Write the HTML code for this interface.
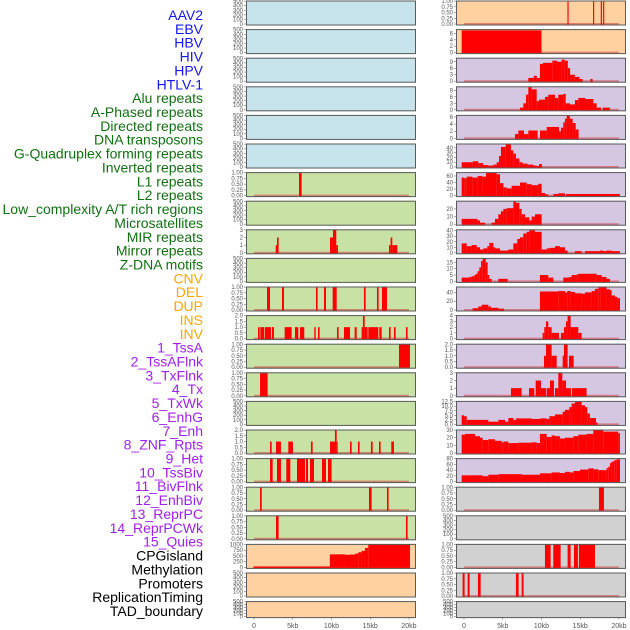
<!DOCTYPE html>
<html><head><meta charset="utf-8"><style>
html,body{margin:0;padding:0;background:#fff;}
svg{display:block;font-family:"Liberation Sans",sans-serif;}
</style></head><body>
<svg id="chart" width="630" height="630" viewBox="0 0 630 630" xmlns="http://www.w3.org/2000/svg">
<g id="labels"></g>
<g id="panels"></g>
<g id="xaxis"></g>
</svg>
<script>
const trackLabels = ["AAV2","EBV","HBV","HIV","HPV","HTLV-1","Alu repeats","A-Phased repeats","Directed repeats","DNA transposons","G-Quadruplex forming repeats","Inverted repeats","L1 repeats","L2 repeats","Low_complexity A/T rich regions","Microsatellites","MIR repeats","Mirror repeats","Z-DNA motifs","CNV","DEL","DUP","INS","INV","1_TssA","2_TssAFlnk","3_TxFlnk","4_Tx","5_TxWk","6_EnhG","7_Enh","8_ZNF_Rpts","9_Het","10_TssBiv","11_BivFlnk","12_EnhBiv","13_ReprPC","14_ReprPCWk","15_Quies","CPGisland","Methylation","Promoters","ReplicationTiming","TAD_boundary"];
const labelGroups = [6,13,5,15,5];
const groupColors = ["#1515ee","#117011","#ffa500","#a020f0","#000000"];
const xTickValues = [0,5,10,15,20];
const xTickLabels = ["0","5kb","10kb","15kb","20kb"];

const ticksEmpty = [0,100,200,300,400,500];
const ticksUnit = [0,0.25,0.5,0.75,1];
// left column steps [startKb, endKb, value]
const L7 = [[5.81,6.15,1]];
const L9 = [[2.8,2.97,1],[2.97,3.18,2],[9.81,10.19,2],[10.19,10.62,3],[10.62,10.84,1],[17.42,17.63,1],[17.63,17.85,2],[17.85,18.49,1]];
const L11 = [[1.68,2.07,1],[3.61,3.87,1],[8.0,8.21,1],[9.03,9.29,1],[10.15,10.67,1],[14.19,14.41,1],[15.87,16.08,1],[16.51,17.16,1]];
const L12 = [[0.52,0.73,1],[0.82,1.29,1],[1.38,2.19,1],[2.32,2.58,1],[3.96,4.86,1],[5.29,5.72,1],[5.94,6.49,1],[7.78,7.96,1],[8.26,8.47,1],[10.71,10.92,1],[11.61,12.39,1],[12.99,13.25,1],[13.89,14.06,1],[14.06,14.28,2],[14.28,14.66,1],[14.75,16.04,1],[16.17,16.47,1],[17.42,17.63,1],[18.06,18.28,1],[19.61,19.82,1]];
const L13 = [[18.71,20.13,1]];
const L14 = [[0.78,1.76,1]];
const L16 = [[2.07,2.28,1],[2.84,3.48,1],[4.43,5.03,1],[7.35,7.57,1],[9.81,10.45,1],[10.45,10.67,2],[10.67,10.79,1],[12.39,12.6,1],[13.42,13.63,1],[15.09,15.31,1],[16.13,16.34,1],[17.72,18.06,1]];
const L17 = [[2.07,2.41,1],[2.97,3.48,1],[4.17,4.69,1],[5.55,6.58,1],[6.71,6.97,1],[7.23,7.74,1],[8.77,9.29,1],[9.55,10.02,1]];
const L18 = [[0.78,1.0,1],[14.84,15.18,1],[17.16,17.37,1]];
const L19 = [[2.84,3.18,1],[19.61,19.82,1]];
const L20 = [[-0.09,9.8,40],[9.8,11.74,570],[11.74,12.39,550],[12.39,13.03,560],[13.03,13.46,600],[13.46,13.89,660],[13.89,14.32,720],[14.32,14.75,850],[14.75,20.13,1000]];
// right column
const R1 = [[13.35,13.5,1],[16.65,16.8,1],[17.65,17.8,1],[17.95,18.1,1]];
const R2 = [[-0.3,10.0,7]];
const R3 = [[8.3,9.0,1.5],[9.0,9.4,2.5],[9.4,9.8,1.5],[9.8,10.2,8],[10.2,11.4,8.5],[11.4,12.0,9.5],[12.0,12.6,9],[12.6,13.0,10],[13.0,13.4,9.5],[13.4,13.7,6],[13.7,14.3,3],[14.3,14.9,2],[14.9,15.3,1],[16.3,16.6,1]];
const R4 = [[7.23,7.66,1],[7.66,8.0,3],[8.0,8.3,7],[8.3,8.73,10.5],[8.73,9.38,9.5],[9.38,9.68,4],[9.68,10.45,4.7],[10.45,10.88,6],[10.88,11.74,7],[11.74,12.17,5.5],[12.17,12.82,7],[12.82,13.12,7.3],[13.12,13.68,3],[13.68,14.32,2.5],[14.32,14.75,4.5],[14.75,15.62,5.5],[15.62,16.69,5],[16.69,17.12,3],[17.12,17.68,1],[17.9,18.84,1]];
const R5 = [[6.58,7.01,1.2],[7.01,7.74,2.2],[7.74,8.3,1.2],[8.3,9.5,2.2],[9.8,10.67,2.2],[10.67,12.26,3.2],[12.26,12.51,2],[12.51,12.82,3],[12.82,13.03,4.5],[13.03,13.25,5.5],[13.25,13.67,6.3],[13.67,14.02,5.5],[14.02,14.41,4.3],[14.41,14.79,2.5]];
const R6 = [[-0.3,1.12,10],[1.12,1.85,12],[1.85,2.5,8],[2.5,3.14,4],[3.14,3.79,3],[3.79,4.22,5],[4.22,4.52,10],[4.52,4.77,23],[4.77,5.38,42],[5.38,6.06,48],[6.06,6.37,35],[6.37,6.71,28],[6.71,7.14,18],[7.14,7.57,10],[7.57,8.21,7],[8.21,8.95,5],[8.95,9.38,3],[9.38,9.68,2],[9.68,10.06,6]];
const R7 = [[-0.3,0.04,55],[0.04,0.35,53],[0.35,1.08,58],[1.08,1.76,55],[1.76,2.37,60],[2.37,2.84,58],[2.84,4.22,70],[4.22,4.65,65],[4.65,5.08,38],[5.08,5.51,25],[5.51,6.15,22],[6.15,7.23,30],[7.23,8.09,40],[8.09,8.73,35],[8.73,9.59,32],[9.59,10.02,36],[10.02,10.45,8],[10.45,10.88,4],[11.53,12.17,5],[12.17,13.03,7],[13.16,20.13,5]];
const R8 = [[-0.3,1.76,7],[1.76,2.07,5],[2.07,2.71,2],[3.57,4.0,2],[4.0,4.43,7],[4.43,4.77,13],[4.77,5.08,17],[5.08,5.51,20],[5.51,6.37,21],[6.37,6.71,30],[6.71,7.14,28],[7.14,7.44,20],[7.44,7.87,13],[7.87,8.43,9],[8.43,8.73,5],[8.73,9.16,10],[9.16,10.02,13]];
const R9 = [[-0.3,0.35,17],[0.35,0.99,12],[0.99,1.64,14],[1.64,2.07,10],[2.07,2.5,6],[2.5,3.01,8],[3.01,3.27,12],[3.27,3.79,18],[3.79,4.0,10],[4.0,4.65,8],[4.65,5.72,4],[5.72,6.37,6],[6.37,6.88,17],[6.88,7.23,25],[7.23,7.65,28],[7.65,8.09,35],[8.09,8.43,38],[8.43,9.16,41],[9.16,10.02,38],[10.02,10.67,6],[10.67,11.1,8],[11.1,11.74,9],[11.74,12.38,12],[12.38,13.03,10],[13.03,13.37,4],[14.32,15.18,3],[15.61,17.55,3],[17.55,17.97,4],[17.97,18.4,3],[18.4,19.05,4],[19.05,20.13,3]];
const R10 = [[-0.3,0.69,3],[0.69,0.99,3.5],[0.99,1.33,4],[1.33,1.55,5],[1.55,1.76,6],[1.76,1.98,8],[1.98,2.2,11],[2.2,2.41,16],[2.41,2.8,18],[2.8,3.05,15],[3.05,3.27,5],[3.27,3.57,2],[4.43,5.63,2],[9.8,10.88,5],[10.88,11.53,3],[12.82,13.59,3],[13.59,13.89,3.5],[13.89,14.54,5],[14.54,14.75,5.5],[14.75,17.12,6],[17.12,17.76,5],[17.76,18.4,3.5],[18.4,18.84,2]];
const R11 = [[1.12,1.85,4],[1.85,2.28,8],[2.28,3.14,12],[3.14,3.48,8],[3.48,4.43,5],[4.43,5.16,3],[9.8,12.17,42],[12.17,13.03,43],[13.03,13.33,40],[13.33,13.76,43],[13.76,14.32,41],[14.32,15.18,38],[15.18,15.61,37],[15.61,16.47,40],[16.47,16.9,43],[16.9,17.33,48],[17.33,17.63,51],[17.63,18.4,52],[18.4,18.84,47],[18.84,19.05,45],[19.05,19.48,33],[19.48,19.78,30],[19.78,20.13,27]];
const R12 = [[10.15,10.36,1],[10.36,10.58,2],[10.58,10.88,3],[10.88,11.31,2],[11.31,12.26,1],[12.51,12.9,1],[12.9,13.16,2],[13.16,13.37,3],[13.37,13.76,4],[13.76,14.75,2],[14.75,15.18,1]];
const R13 = [[10.32,10.58,1],[10.58,11.31,2],[11.31,11.96,1],[12.73,12.9,1],[12.9,13.37,2],[13.55,14.15,1]];
const R14 = [[6.06,7.44,1],[8.39,9.07,1],[9.25,9.93,2],[9.93,10.58,1],[10.67,11.1,1],[11.1,11.61,2],[11.74,12.17,1],[12.17,12.69,3],[12.69,13.16,2],[13.16,13.8,1],[13.93,15.82,1]];
const R15 = [[-0.3,0.0,5],[0.0,0.35,4.5],[0.35,3.14,2.5],[3.14,4.43,1.5],[4.43,5.29,2.5],[5.29,5.72,1.5],[5.72,6.37,3.5],[6.37,6.71,2.5],[6.71,8.73,3.3],[8.73,9.8,3],[9.8,10.67,3.3],[10.67,11.01,3],[11.01,11.74,4.5],[11.74,12.73,5.5],[12.73,13.03,7],[13.03,13.59,8],[13.59,13.89,9.5],[13.89,14.32,11.5],[14.32,15.18,12.5],[15.18,15.61,10.5],[15.61,15.91,9.5],[15.91,16.25,6],[16.25,17.03,3.5],[17.03,17.24,1]];
const R16 = [[-0.3,0.13,24],[0.13,1.42,25],[1.42,2.07,22],[2.07,2.41,20],[2.41,3.14,17],[3.14,4.0,18],[4.0,4.86,16],[4.86,5.08,14],[5.08,5.72,15],[5.72,7.01,13],[7.01,8.73,13.5],[8.73,9.38,14],[9.38,9.8,13],[9.8,10.67,25],[10.67,11.31,21],[11.31,11.74,23],[11.74,12.38,22],[12.38,13.03,19],[13.03,14.11,20],[14.11,14.75,22],[14.75,15.82,24],[15.82,16.69,25],[16.69,17.97,30],[17.97,19.91,28],[19.91,20.13,26]];
const R17 = [[-0.3,2.41,22],[2.41,3.14,19],[3.14,4.43,24],[4.43,7.44,26],[7.44,9.8,24],[9.8,11.31,29],[11.31,12.38,32],[12.38,13.03,30],[13.03,13.67,34],[13.67,14.11,32],[14.11,14.97,37],[14.97,16.04,42],[16.04,16.69,46],[16.69,17.33,43],[17.33,18.4,40],[18.4,18.62,47],[18.62,18.84,52],[18.84,19.05,65],[19.05,19.39,70],[19.39,19.7,75],[19.7,20.13,78]];
const R18 = [[17.42,18.06,1]];
const R20 = [[10.45,11.18,1],[11.52,12.47,1],[13.37,13.76,1],[14.19,14.7,1],[14.83,16.9,1]];
const R21 = [[-0.18,0.08,1],[0.47,0.73,1],[1.8,2.15,1],[6.7,7.05,1],[7.44,7.69,1]];

const BLUE="#c7e4ec",GREEN="#c8e1a4",ORANGE="#ffd1a0",PURPLE="#d5c6e2",GRAY="#d1d1d1";
const leftCol = [
 [BLUE,ticksEmpty,500,null],[BLUE,ticksEmpty,500,null],[BLUE,ticksEmpty,500,null],[BLUE,ticksEmpty,500,null],[BLUE,ticksEmpty,500,null],[BLUE,ticksEmpty,500,null],
 [GREEN,ticksUnit,1,L7],[GREEN,ticksEmpty,500,null],[GREEN,[0,1,2,3],3,L9],[GREEN,ticksEmpty,500,null],[GREEN,ticksUnit,1,L11],[GREEN,[0,0.5,1,1.5,2],2,L12],
 [GREEN,ticksUnit,1,L13],[GREEN,ticksUnit,1,L14],[GREEN,ticksEmpty,500,null],[GREEN,[0,0.5,1,1.5,2],2,L16],[GREEN,ticksUnit,1,L17],[GREEN,ticksUnit,1,L18],[GREEN,ticksUnit,1,L19],
 [ORANGE,[0,250,500,750,1000],1000,L20],[ORANGE,ticksEmpty,500,null],[ORANGE,ticksEmpty,500,null]];
const rightCol = [
 [ORANGE,ticksUnit,1,R1],[ORANGE,[0,2,4,6],7.2,R2],[PURPLE,[0,3,6,9],10.6,R3],[PURPLE,[0,3,6,9],10.6,R4],[PURPLE,[0,2,4,6],6.4,R5],[PURPLE,[0,10,20,30,40],48,R6],
 [PURPLE,[0,20,40,60],70,R7],[PURPLE,[0,10,20],30,R8],[PURPLE,[0,10,20,30,40],41.5,R9],[PURPLE,[0,5,10,15],18,R10],[PURPLE,[0,20,40],52,R11],[PURPLE,[0,1,2,3,4],4,R12],
 [PURPLE,[0,0.5,1,1.5,2],2,R13],[PURPLE,[0,1,2,3],3,R14],[PURPLE,[0,2.5,5,7.5,10,12.5],12.6,R15],[PURPLE,[0,10,20,30],30,R16],[PURPLE,[0,20,40,60,80],80,R17],
 [GRAY,ticksUnit,1,R18],[GRAY,ticksEmpty,500,null],[GRAY,ticksUnit,1,R20],[GRAY,ticksUnit,1,R21],[GRAY,ticksEmpty,500,null]];

const NS="http://www.w3.org/2000/svg";
function mk(tag,attrs,parent){const e=document.createElementNS(NS,tag);for(const k in attrs)e.setAttribute(k,attrs[k]);parent.appendChild(e);return e;}
const colX=[246,456], panelW=170, pxPerKb=7.75, kbOffset=1.03;
function xScale(col,kb){return colX[col]+(kb+kbOffset)*pxPerKb;}
function rowTop(r){return r*28.6+0.5;}
function rowH(r){return r===21?17:25;}
function fmt(v,ticks){const dec=ticks.some(t=>t%1!==0);if(!dec)return String(v);if(ticks.includes(0.25))return v.toFixed(2);return v.toFixed(1);}

// labels
const lg=document.getElementById('labels');
let gi=0,cnt=0;
trackLabels.forEach((t,i)=>{
  const e=mk('text',{x:203,y:15+i*13.86+5,'text-anchor':'end','font-size':'14',fill:groupColors[gi]},lg);
  
  
  e.textContent=t;
  cnt++; if(cnt>=labelGroups[gi]){gi++;cnt=0;}
});

const pg=document.getElementById('panels');
[leftCol,rightCol].forEach((colData,col)=>{
  colData.forEach((p,r)=>{
    const [bg,ticks,ymax,steps]=p;
    const top=rowTop(r),h=rowH(r),bottom=top+h;
    const g=mk('g',{},pg);
    
    
    const bgRect=mk('rect',{x:colX[col],y:top,width:panelW,height:h,fill:bg},g);
    
    
    const y0=bottom-1.5,y1=top+0.6;
    const yS=v=>y0-(v/ymax)*(y0-y1);
    if(steps){
      const base=mk('line',{x1:xScale(col,0),x2:xScale(col,20),y1:y0,y2:y0,stroke:'rgba(210,60,60,0.55)','stroke-width':2},g);
      
      
      steps.forEach(s=>{
        const xa=xScale(col,s[0]),xb=xScale(col,s[1]);
        const rc=mk('rect',{x:xa,y:yS(s[2]),width:Math.max(1,xb-xa),height:y0-yS(s[2])+0.5,fill:'#ff0000'},g);
        
        
      });
    }
    const br=mk('rect',{x:colX[col]+0.5,y:top+0.5,width:panelW-1,height:h-1,fill:'none',stroke:'#5a5a5a','stroke-width':1},g);
    
    
    ticks.forEach(t=>{
      const yy=yS(t);
      mk('line',{x1:colX[col]-2,x2:colX[col],y1:yy,y2:yy,stroke:'#555','stroke-width':0.5},g);
      const tx=mk('text',{x:colX[col]-3,y:yy+2,'text-anchor':'end','font-size':'6',fill:'#555'},g);
      
      
      tx.textContent=fmt(t,ticks);
    });
  });
});

const xg=document.getElementById('xaxis');
[0,1].forEach(col=>{
  xTickValues.forEach((v,i)=>{
    const x=xScale(col,v);
    mk('line',{x1:x,x2:x,y1:617.5,y2:619.5,stroke:'#555','stroke-width':0.5},xg);
    const t=mk('text',{x:x,y:628,'text-anchor':'middle','font-size':'7',fill:'#555'},xg);
    
    
    t.textContent=xTickLabels[i];
  });
});
</script>
</body></html>
